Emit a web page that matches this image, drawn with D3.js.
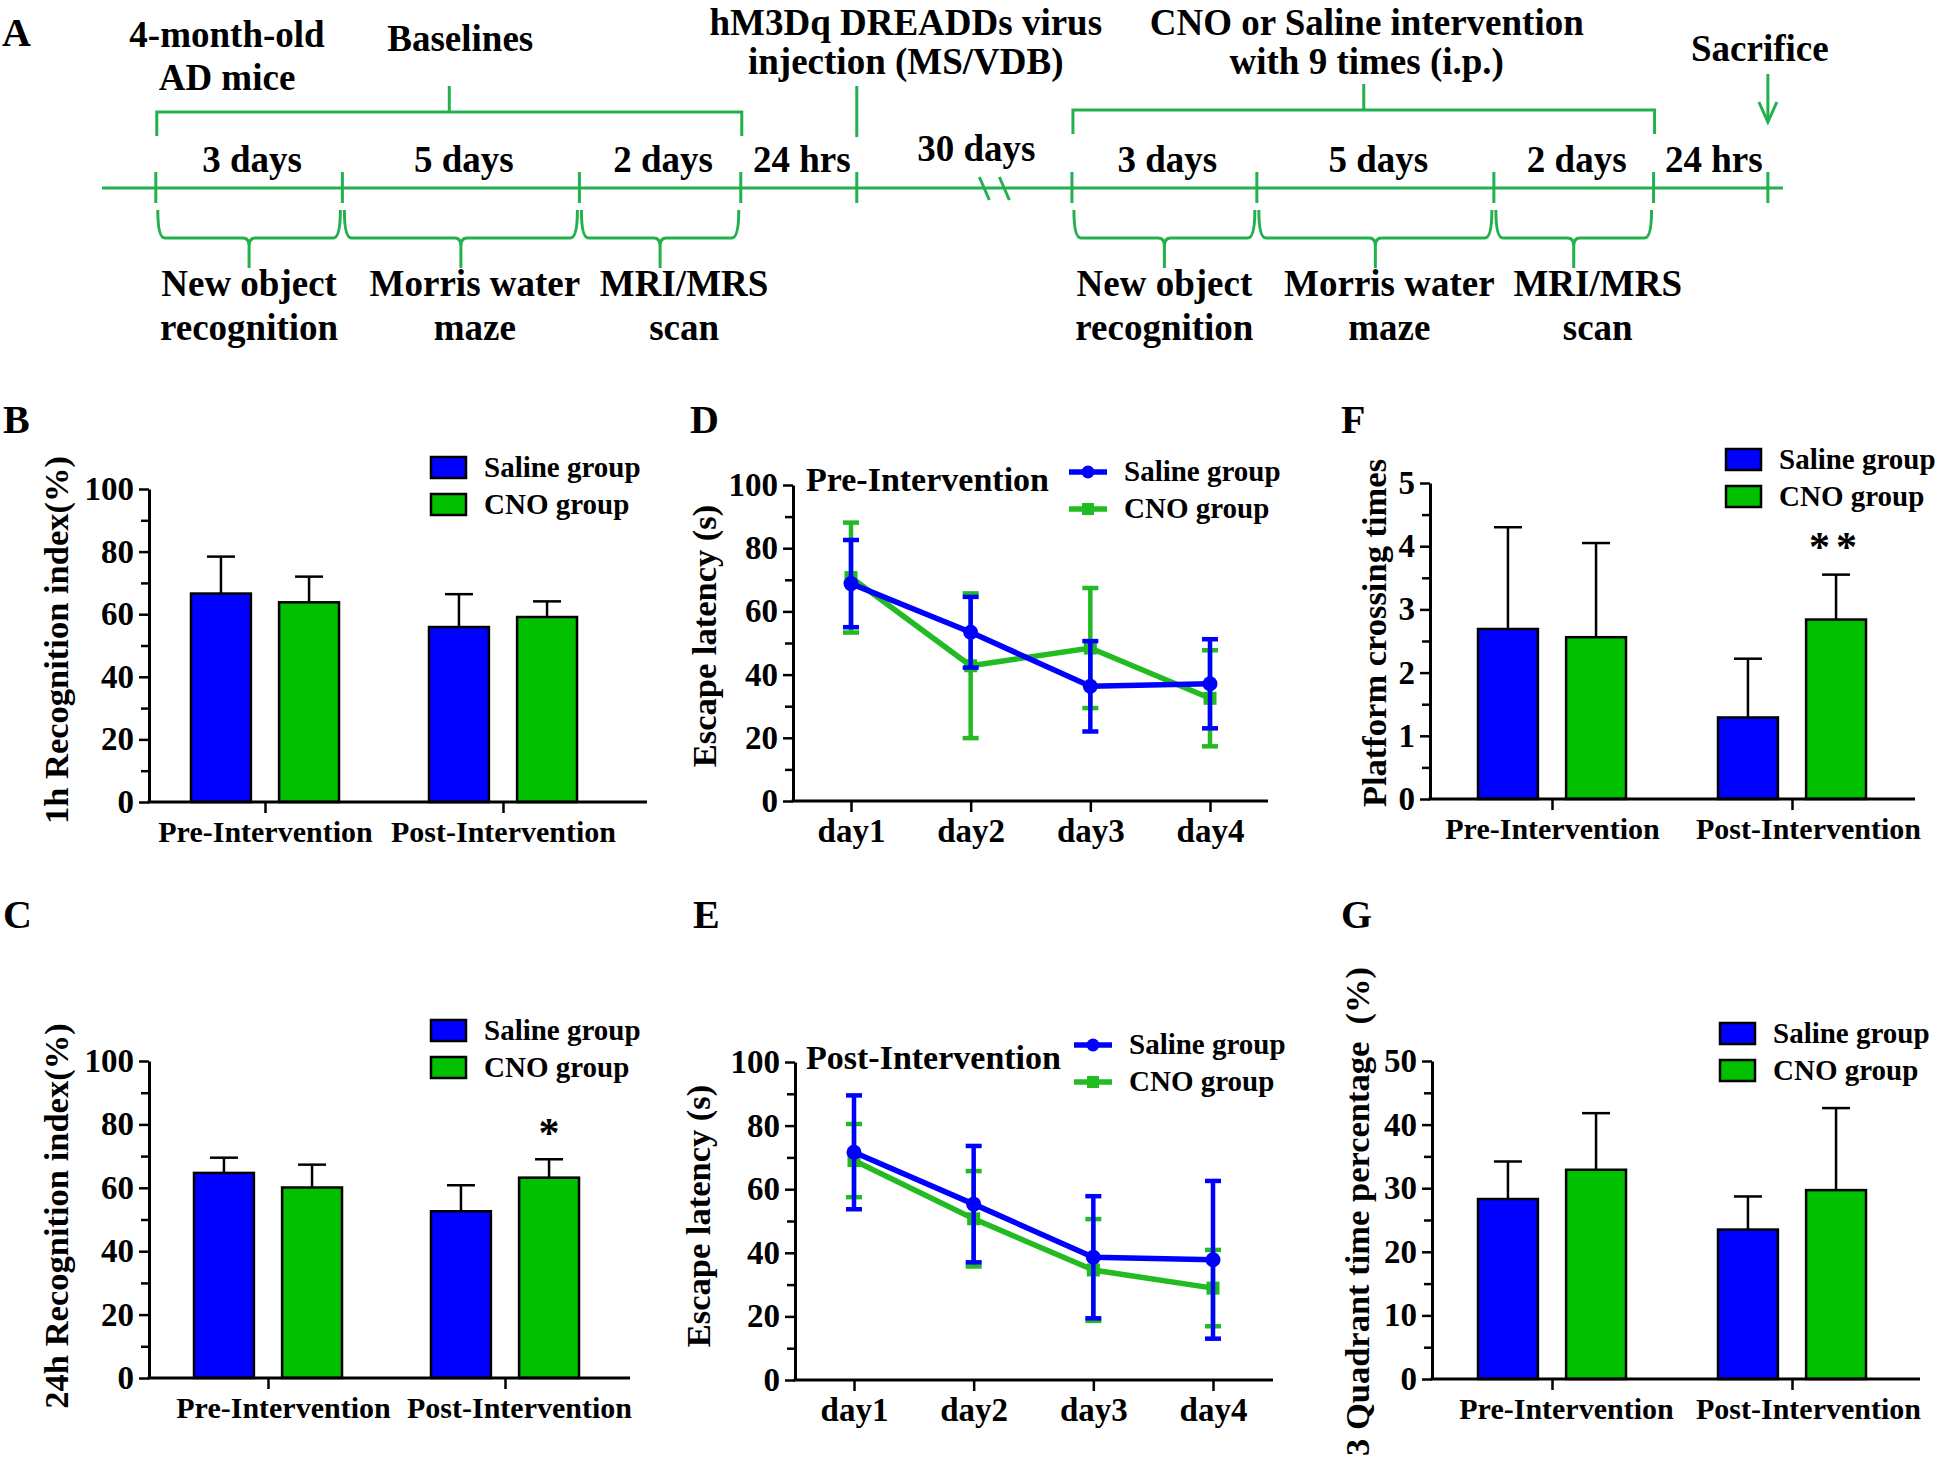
<!DOCTYPE html>
<html>
<head>
<meta charset="utf-8">
<script src="https://cdn.jsdelivr.net/npm/d3@7"></script>
<style>
  body { margin: 0; background: #fff; }
  svg { display: block; font-family: "Liberation Serif", "Times New Roman", serif; font-weight: bold; }
</style>
</head>
<body>
<div id="fig"></div>
<script>
// ---- data ----
const groups = ["Pre-Intervention", "Post-Intervention"];
const seriesNames = ["Saline group", "CNO group"];
const days = ["day1", "day2", "day3", "day4"];

// B: 1h recognition index (%)
const recog1hSaline = [66.6, 55.9];
const recog1hSalineSd = [11.8, 10.5];
const recog1hCno = [63.8, 59.1];
const recog1hCnoSd = [8.2, 5.0];

// C: 24h recognition index (%)
const recog24hSaline = [64.7, 52.6];
const recog24hSalineSd = [4.8, 8.2];
const recog24hCno = [60.1, 63.2];
const recog24hCnoSd = [7.2, 5.8];

// D: escape latency, pre-intervention (s)
const preLatencySaline = [68.8, 53.4, 36.3, 37.1];
const preLatencySalineSd = [13.8, 11.2, 14.3, 14.1];
const preLatencyCno = [70.7, 42.8, 48.4, 32.5];
const preLatencyCnoSd = [17.4, 22.9, 19.0, 15.2];

// E: escape latency, post-intervention (s)
const postLatencySaline = [71.6, 55.3, 38.6, 37.8];
const postLatencySalineSd = [17.9, 18.3, 19.2, 24.8];
const postLatencyCno = [69.0, 50.7, 34.6, 28.9];
const postLatencyCnoSd = [11.5, 15.0, 16.0, 12.0];

// F: platform crossing times
const crossingSaline = [2.69, 1.29];
const crossingSalineSd = [1.61, 0.93];
const crossingCno = [2.56, 2.84];
const crossingCnoSd = [1.49, 0.71];

// G: 3 quadrant time percentage (%)
const quadrantSaline = [28.3, 23.5];
const quadrantSalineSd = [5.9, 5.2];
const quadrantCno = [32.9, 29.7];
const quadrantCnoSd = [8.9, 12.9];

// tick labels
const ticks100 = [0, 20, 40, 60, 80, 100];
const ticks5 = [0, 1, 2, 3, 4, 5];
const ticks50 = [0, 10, 20, 30, 40, 50];

// A: timeline (stops in % of the time axis)
const timelineStops = [3.2, 14.3, 28.4, 38.0, 44.9, 57.7, 68.7, 82.8, 92.3, 99.1];
const intervalLabels = ["3 days", "5 days", "2 days", "24 hrs", "30 days", "3 days", "5 days", "2 days", "24 hrs"];
const taskIntervals = [0, 1, 2, 5, 6, 7];
const taskLabels = [["New object", "recognition"], ["Morris water", "maze"], ["MRI/MRS", "scan"]];

// ---- styles ----
const BLUE = "#0000ff";
const BAR_GREEN = "#00c000";
const LINE_GREEN = "#22bb22";
const TL_GREEN = "#22b14c";
const barColors = [BLUE, BAR_GREEN];
const lineColors = [BLUE, LINE_GREEN];

const svg = d3.select("#fig").append("svg").attr("width", 1944).attr("height", 1461);

function panelLetter(letter, x, y) {
  svg.append("text").attr("x", x).attr("y", y).attr("font-size", 40).text(letter);
}

function yAxes(g, y, p) {
  const minor = d3.range(0, p.max + 1e-9, p.minorStep).filter((v) => !p.ticks.includes(v));
  const ax = g.append("g")
    .attr("transform", `translate(${p.axisX},0)`)
    .call(d3.axisLeft(y).tickValues(p.ticks).tickSize(10).tickSizeOuter(0).tickPadding(5).tickFormat(d3.format("d")))
    .attr("font-family", null).attr("font-size", 33);
  ax.select(".domain").attr("stroke-width", 3);
  ax.selectAll(".tick line").attr("stroke-width", 2.5);
  ax.selectAll(".tick text").attr("fill", "#000");
  const mn = g.append("g")
    .attr("transform", `translate(${p.axisX},0)`)
    .call(d3.axisLeft(y).tickValues(minor).tickSize(8).tickFormat(""));
  mn.select(".domain").remove();
  mn.selectAll(".tick line").attr("stroke-width", 2.5);
  // horizontal axis line
  g.append("line")
    .attr("x1", p.axisX - 1.5).attr("x2", p.xEnd)
    .attr("y1", p.y0).attr("y2", p.y0)
    .attr("stroke", "#000").attr("stroke-width", 3);
}

function yTitle(p) {
  svg.append("text")
    .attr("transform", `translate(${p.titleX},${p.titleY}) rotate(-90)`)
    .attr("text-anchor", p.titleAnchor || "middle")
    .attr("font-size", 34.5)
    .style("white-space", "pre")
    .text(p.title);
}

function drawBarPanel(p) {
  const g = svg.append("g");
  const y = d3.scaleLinear().domain([0, p.max]).range([p.y0, p.y1]);
  const x = d3.scalePoint().domain(groups).range(p.centers);
  const sub = d3.scaleBand().domain(seriesNames).range([-74, 74]).paddingInner(0.32);

  const rows = [];
  p.series.forEach((s, si) =>
    s.mean.forEach((m, gi) =>
      rows.push({ group: groups[gi], name: seriesNames[si], mean: m, sd: s.sd[gi], color: barColors[si] })
    )
  );
  const cx = (d) => x(d.group) + sub(d.name) + sub.bandwidth() / 2;

  // error bars (upper only)
  g.selectAll(".err").data(rows).enter().append("line")
    .attr("x1", cx).attr("x2", cx)
    .attr("y1", (d) => y(d.mean)).attr("y2", (d) => y(d.mean + d.sd))
    .attr("stroke", "#000").attr("stroke-width", 2.5);
  g.selectAll(".cap").data(rows).enter().append("line")
    .attr("x1", (d) => cx(d) - 14).attr("x2", (d) => cx(d) + 14)
    .attr("y1", (d) => y(d.mean + d.sd)).attr("y2", (d) => y(d.mean + d.sd))
    .attr("stroke", "#000").attr("stroke-width", 2.5);

  // bars
  g.selectAll(".bar").data(rows).enter().append("rect")
    .attr("x", (d) => x(d.group) + sub(d.name))
    .attr("width", sub.bandwidth())
    .attr("y", (d) => y(d.mean))
    .attr("height", (d) => y(0) - y(d.mean))
    .attr("fill", (d) => d.color)
    .attr("stroke", "#000").attr("stroke-width", 2.5);

  yAxes(g, y, p);

  // category ticks and labels
  const xa = g.append("g")
    .attr("transform", `translate(0,${p.y0})`)
    .call(d3.axisBottom(x).tickSize(11).tickSizeOuter(0).tickPadding(8))
    .attr("font-family", null).attr("font-size", 30);
  xa.select(".domain").remove();
  xa.selectAll(".tick line").attr("stroke-width", 2.5);
  xa.selectAll(".tick text")
    .attr("fill", "#000")
    .attr("dx", (d, i) => p.labelDx[i]);

  // significance
  if (p.star) {
    const d = rows.find((r) => r.group === groups[p.star.group] && r.name === seriesNames[p.star.series]);
    g.append("text")
      .attr("x", cx(d)).attr("y", y(d.mean + d.sd) - p.star.gap)
      .attr("text-anchor", "middle").attr("font-size", 42)
      .attr("letter-spacing", p.star.text.length > 1 ? 6 : 0)
      .text(p.star.text);
  }

  // legend
  seriesNames.forEach((name, i) => {
    const ly = p.legend.y + i * 37;
    g.append("rect").attr("x", p.legend.x).attr("y", ly).attr("width", 35).attr("height", 21)
      .attr("fill", barColors[i]).attr("stroke", "#000").attr("stroke-width", 2.5);
    g.append("text").attr("x", p.legend.x + 53).attr("y", ly + 20).attr("font-size", 29).text(name);
  });

  yTitle(p);
}

function drawLinePanel(p) {
  const g = svg.append("g");
  const y = d3.scaleLinear().domain([0, 100]).range([p.y0, p.y1]);
  const x = d3.scalePoint().domain(days).range(p.days);

  yAxes(g, y, p);

  const xa = g.append("g")
    .attr("transform", `translate(0,${p.y0})`)
    .call(d3.axisBottom(x).tickSize(11).tickSizeOuter(0).tickPadding(7))
    .attr("font-family", null).attr("font-size", 33);
  xa.select(".domain").remove();
  xa.selectAll(".tick line").attr("stroke-width", 2.5);
  xa.selectAll(".tick text").attr("fill", "#000");

  // green series first, blue drawn on top
  [1, 0].forEach((si) => {
    const s = p.series[si];
    const color = lineColors[si];
    const pts = s.mean.map((m, i) => ({ day: days[i], mean: m, sd: s.sd[i] }));
    const sg = g.append("g");
    sg.selectAll(".e").data(pts).enter().append("line")
      .attr("x1", (d) => x(d.day)).attr("x2", (d) => x(d.day))
      .attr("y1", (d) => y(d.mean - d.sd)).attr("y2", (d) => y(d.mean + d.sd))
      .attr("stroke", color).attr("stroke-width", 4.5);
    [-1, 1].forEach((sign) => {
      sg.selectAll(".c").data(pts).enter().append("line")
        .attr("x1", (d) => x(d.day) - 8).attr("x2", (d) => x(d.day) + 8)
        .attr("y1", (d) => y(d.mean + sign * d.sd)).attr("y2", (d) => y(d.mean + sign * d.sd))
        .attr("stroke", color).attr("stroke-width", 4.5);
    });
    sg.append("path").datum(pts)
      .attr("d", d3.line().x((d) => x(d.day)).y((d) => y(d.mean)))
      .attr("fill", "none").attr("stroke", color).attr("stroke-width", 5.5);
    if (si === 0) {
      sg.selectAll(".m").data(pts).enter().append("circle")
        .attr("cx", (d) => x(d.day)).attr("cy", (d) => y(d.mean)).attr("r", 7.5)
        .attr("fill", color);
    } else {
      sg.selectAll(".m").data(pts).enter().append("rect")
        .attr("x", (d) => x(d.day) - 6.5).attr("y", (d) => y(d.mean) - 6.5)
        .attr("width", 13).attr("height", 13).attr("fill", color);
    }
  });

  // inner title
  g.append("text").attr("x", p.heading.x).attr("y", p.heading.y).attr("font-size", 34).text(p.heading.text);

  // legend
  seriesNames.forEach((name, i) => {
    const ly = p.legend.y + i * 37;
    const lx = p.legend.x;
    g.append("line").attr("x1", lx).attr("x2", lx + 38).attr("y1", ly).attr("y2", ly)
      .attr("stroke", lineColors[i]).attr("stroke-width", 5.5);
    if (i === 0) {
      g.append("circle").attr("cx", lx + 19).attr("cy", ly).attr("r", 6.5).attr("fill", lineColors[i]);
    } else {
      g.append("rect").attr("x", lx + 13).attr("y", ly - 6).attr("width", 12).attr("height", 12).attr("fill", lineColors[i]);
    }
    g.append("text").attr("x", lx + 55).attr("y", ly + 9).attr("font-size", 29).text(name);
  });

  yTitle(p);
}

function drawTimeline() {
  const g = svg.append("g").attr("fill", "none").attr("stroke", TL_GREEN).attr("stroke-width", 3);
  const tl = d3.scaleLinear().domain([0, 100]).range([102, 1783]);
  const lineY = 188;

  g.append("line").attr("x1", tl(0)).attr("x2", tl(100)).attr("y1", lineY).attr("y2", lineY);
  g.selectAll(".tk").data(timelineStops).enter().append("line")
    .attr("x1", (d) => tl(d)).attr("x2", (d) => tl(d))
    .attr("y1", 172).attr("y2", 203);

  // break marks inside the 30-day interval
  const bx = (tl(timelineStops[4]) + tl(timelineStops[5])) / 2 + 30;
  [-10, 10].forEach((o) => {
    g.append("line").attr("x1", bx + o - 5).attr("x2", bx + o + 5).attr("y1", 177).attr("y2", 200);
  });

  // top brackets
  [[0, 3], [5, 8]].forEach(([a, b]) => {
    const x1 = tl(timelineStops[a]) + 1, x2 = tl(timelineStops[b]) + 1;
    const top = a === 0 ? 112 : 110;
    g.append("path").attr("d", `M${x1},${top + 24}V${top}H${x2}V${top + 24}`);
    g.append("line").attr("x1", (x1 + x2) / 2).attr("x2", (x1 + x2) / 2).attr("y1", top).attr("y2", top - 26);
  });

  // injection marker
  const ix = tl(timelineStops[4]);
  g.append("line").attr("x1", ix).attr("x2", ix).attr("y1", 86).attr("y2", 137);

  // sacrifice arrow
  const sx = tl(timelineStops[9]);
  g.append("line").attr("x1", sx).attr("x2", sx).attr("y1", 74).attr("y2", 122);
  g.append("path").attr("d", `M${sx - 9},${102}L${sx},${122}L${sx + 9},${102}`);

  // bottom braces
  taskIntervals.forEach((k) => {
    const x1 = tl(timelineStops[k]) + 2, x2 = tl(timelineStops[k + 1]) - 2;
    const c = (x1 + x2) / 2;
    g.append("path").attr("d",
      `M${x1},210Q${x1},238 ${x1 + 7},238H${c - 6}Q${c},238 ${c},246V268` +
      `M${c},246Q${c},238 ${c + 6},238H${x2 - 7}Q${x2},238 ${x2},210`);
  });

  const t = svg.append("g").attr("text-anchor", "middle").attr("font-size", 37).attr("fill", "#000");

  // interval labels
  intervalLabels.forEach((lab, i) => {
    const c = (tl(timelineStops[i]) + tl(timelineStops[i + 1])) / 2;
    t.append("text").attr("x", c + (i === 4 ? 12 : 3)).attr("y", i === 4 ? 161 : 172).text(lab);
  });

  // task labels under braces
  const taskDx = [0, 14, 24];
  taskIntervals.forEach((k, i) => {
    const c = (tl(timelineStops[k]) + tl(timelineStops[k + 1])) / 2 + taskDx[i % 3];
    const lines = taskLabels[i % 3];
    t.append("text").attr("x", c).attr("y", 296).text(lines[0]);
    t.append("text").attr("x", c).attr("y", 340).text(lines[1]);
  });

  // annotations
  const note = (x, y, s) => t.append("text").attr("x", x).attr("y", y).text(s);
  const baseC = (tl(timelineStops[0]) + tl(timelineStops[3])) / 2;
  note(227, 47, "4-month-old");
  note(227, 90, "AD mice");
  note(baseC + 12, 51, "Baselines");
  note(ix + 49, 35, "hM3Dq DREADDs virus");
  note(ix + 49, 74, "injection (MS/VDB)");
  const intC = (tl(timelineStops[5]) + tl(timelineStops[8])) / 2;
  note(intC + 4, 35, "CNO or Saline intervention");
  note(intC + 4, 74, "with 9 times (i.p.)");
  note(sx - 8, 61, "Sacrifice");
}

// ---- draw ----
panelLetter("A", 2, 46);
drawTimeline();

panelLetter("B", 3, 433);
drawBarPanel({
  title: "1h Recognition index(%)", titleX: 68, titleY: 640,
  series: [{ mean: recog1hSaline, sd: recog1hSalineSd }, { mean: recog1hCno, sd: recog1hCnoSd }],
  max: 100, ticks: ticks100, minorStep: 10,
  axisX: 149, xEnd: 647, y0: 802, y1: 489, centers: [265, 503], labelDx: [0, 0],
  legend: { x: 431, y: 457 }, star: null,
});

panelLetter("C", 3, 928);
drawBarPanel({
  title: "24h Recognition index(%)", titleX: 68, titleY: 1216,
  series: [{ mean: recog24hSaline, sd: recog24hSalineSd }, { mean: recog24hCno, sd: recog24hCnoSd }],
  max: 100, ticks: ticks100, minorStep: 10,
  axisX: 149, xEnd: 630, y0: 1378, y1: 1061, centers: [268, 505], labelDx: [15, 14],
  legend: { x: 431, y: 1020 }, star: { group: 1, series: 1, text: "*", gap: 12 },
});

panelLetter("D", 690, 433);
drawLinePanel({
  title: "Escape latency (s)", titleX: 716, titleY: 636,
  series: [{ mean: preLatencySaline, sd: preLatencySalineSd }, { mean: preLatencyCno, sd: preLatencyCnoSd }],
  max: 100, ticks: ticks100, minorStep: 10,
  axisX: 793, xEnd: 1268, y0: 801, y1: 485, days: [851, 1210],
  heading: { text: "Pre-Intervention", x: 806, y: 491 },
  legend: { x: 1069, y: 472 },
});

panelLetter("E", 693, 928);
drawLinePanel({
  title: "Escape latency (s)", titleX: 710, titleY: 1216,
  series: [{ mean: postLatencySaline, sd: postLatencySalineSd }, { mean: postLatencyCno, sd: postLatencyCnoSd }],
  max: 100, ticks: ticks100, minorStep: 10,
  axisX: 795, xEnd: 1273, y0: 1380, y1: 1062, days: [854, 1213],
  heading: { text: "Post-Intervention", x: 806, y: 1069 },
  legend: { x: 1074, y: 1045 },
});

panelLetter("F", 1341, 433);
drawBarPanel({
  title: "Platform crossing times", titleX: 1386, titleY: 633,
  series: [{ mean: crossingSaline, sd: crossingSalineSd }, { mean: crossingCno, sd: crossingCnoSd }],
  max: 5, ticks: ticks5, minorStep: 0.5,
  axisX: 1430, xEnd: 1915, y0: 799, y1: 483, centers: [1552, 1792], labelDx: [0, 16],
  legend: { x: 1726, y: 449 }, star: { group: 1, series: 1, text: "**", gap: 14 },
});

panelLetter("G", 1341, 928);
drawBarPanel({
  title: "3 Quadrant time percentage  (%)", titleX: 1369, titleY: 967, titleAnchor: "end",
  series: [{ mean: quadrantSaline, sd: quadrantSalineSd }, { mean: quadrantCno, sd: quadrantCnoSd }],
  max: 50, ticks: ticks50, minorStep: 5,
  axisX: 1432, xEnd: 1920, y0: 1379, y1: 1061, centers: [1552, 1792], labelDx: [14, 16],
  legend: { x: 1720, y: 1023 }, star: null,
});
</script>
</body>
</html>
